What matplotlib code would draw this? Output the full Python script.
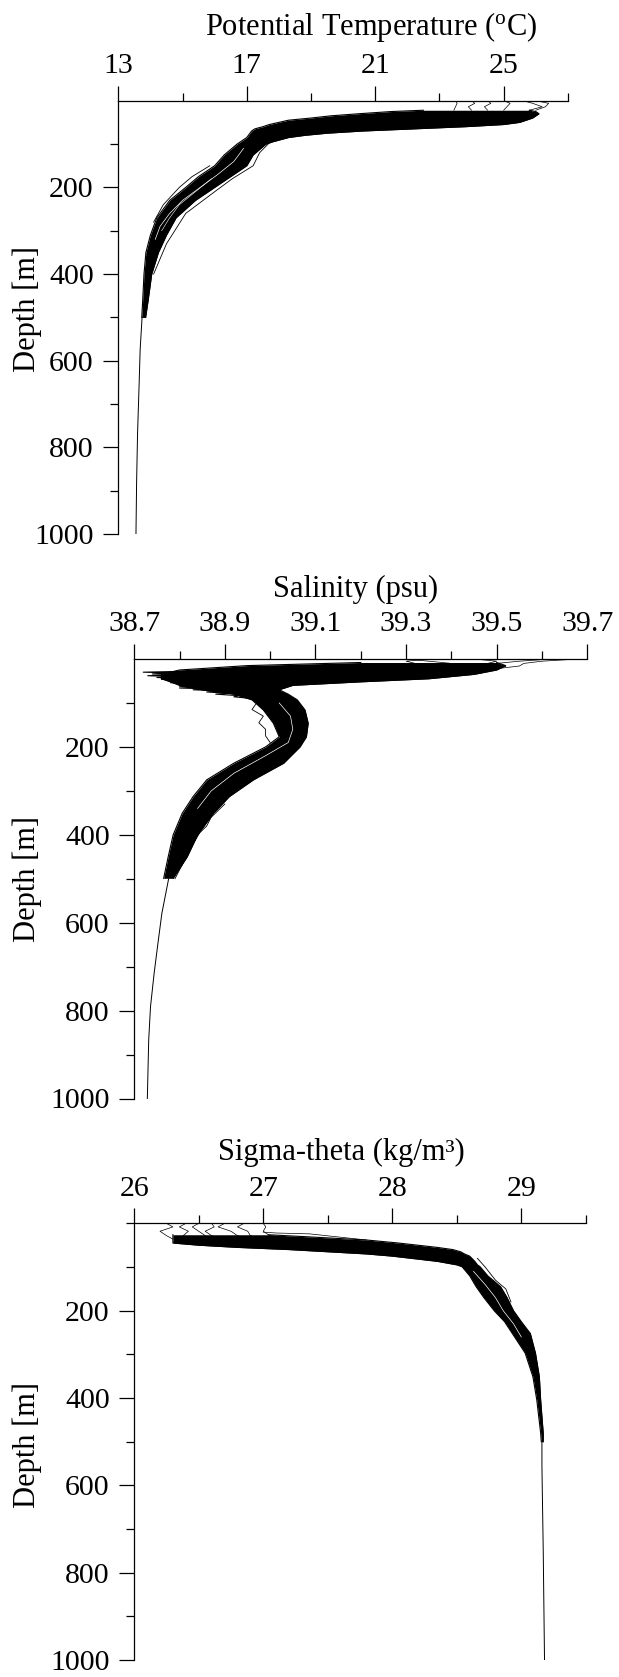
import numpy as np
import matplotlib.pyplot as plt

plt.rcParams['font.family'] = 'Liberation Serif'
plt.rcParams['mathtext.fontset'] = 'custom'
plt.rcParams['mathtext.rm'] = 'Liberation Serif'
plt.rcParams['mathtext.default'] = 'regular'

# %% potential temperature (degC) -- envelope of the cast bundle + single deep cast
temp_depth = [22, 25, 30, 35, 40, 45, 50, 55, 60, 65, 70, 75, 80, 85, 95, 100, 125,
              150, 175, 200, 230, 270, 310, 350, 400, 460, 500]
temp_left = [22.5, 21.5, 20.5, 19.6, 19.0, 18.3, 18.0, 17.7, 17.5, 17.25, 17.15, 17.1,
             17.05, 17.0, 16.8, 16.7, 16.3, 16.0, 15.5, 15.1, 14.6, 14.2, 14.0, 13.86,
             13.8, 13.76, 13.73]
temp_right = [25.8, 26.0, 26.1, 26.0, 25.9, 25.7, 25.5, 25.0, 23.8, 22.2, 20.6, 19.5,
              18.8, 18.3, 17.8, 17.6, 17.2, 17.0, 16.5, 16.0, 15.4, 14.8, 14.5, 14.25,
              14.04, 13.93, 13.85]
temp_deep_depth = [500, 575, 650, 767, 880, 1000]
temp_deep = [13.74, 13.68, 13.65, 13.6, 13.57, 13.55]
temp_surf_depth = [0, 6, 14, 22]
temp_surf = [[23.5, 23.55, 23.5, 23.45],
             [24.0, 24.1, 23.9, 24.0],
             [24.5, 24.6, 24.4, 24.5],
             [25.0, 25.2, 25.1, 25.0],
             [25.6, 25.9, 26.2, 25.8],
             [26.0, 26.4, 26.3, 26.0]]
# casts standing out of the bundle, and white gaps inside it
temp_out_depth = [90, 120, 150, 180, 210, 260, 330, 400]
temp_out_right = [17.8, 17.4, 17.2, 16.55, 16.0, 15.1, 14.5, 14.1]
temp_out_left_depth = [150, 175, 200, 240, 280]
temp_out_left = [15.85, 15.3, 14.9, 14.4, 14.1]
temp_gap_depth = [110, 140, 170, 200, 230, 260, 290, 320]
temp_gap = [16.9, 16.6, 16.1, 15.55, 15.0, 14.6, 14.3, 14.15]
temp_gap2_depth = [180, 210, 240, 270, 300]
temp_gap2 = [15.9, 15.4, 14.9, 14.6, 14.35]

# %% salinity (psu)
sal_depth = [8, 15, 25, 35, 45, 52, 60, 70, 80, 93, 116, 146, 177, 200, 237, 275,
             313, 351, 400, 450, 499]
sal_left = [39.2, 38.95, 38.80, 38.76, 38.76, 38.78, 38.80, 38.85, 38.92, 38.96, 38.985,
            39.007, 39.02, 38.99, 38.92, 38.86, 38.83, 38.806, 38.786, 38.775, 38.765]
sal_right = [39.5, 39.52, 39.50, 39.45, 39.35, 39.2, 39.05, 39.02, 39.04, 39.06, 39.077,
             39.084, 39.08, 39.066, 39.03, 38.963, 38.91, 38.875, 38.84, 38.817, 38.786]
sal_deep_depth = [500, 579, 650, 715, 791, 867, 1000]
sal_deep = [38.776, 38.761, 38.752, 38.744, 38.736, 38.732, 38.729]
sal_surf_depth = [0, 5, 10, 16, 22]
sal_surf = [[39.62, 39.55, 39.5, 39.45, 39.4],
            [39.45, 39.5, 39.48, 39.52, 39.5],
            [39.3, 39.35, 39.4, 39.45, 39.42],
            [39.68, 39.6, 39.56, 39.55, 39.5],
            [39.35, 39.3, 39.32, 39.38, 39.3]]
sal_spike_depth = [26, 30, 34, 38, 42, 46, 50, 54, 58, 62, 66, 70, 75, 80, 86, 92]
sal_spike_a = [38.9, 38.72, 38.88, 38.73, 38.85, 38.76, 38.9, 38.78, 38.93, 38.8,
               38.92, 38.83, 38.95, 38.88, 38.97, 39.0]
sal_spike_b = [38.95, 38.8, 38.74, 38.9, 38.75, 38.82, 38.78, 38.95, 38.82, 38.88,
               38.8, 38.93, 38.86, 38.94, 38.92, 38.98]
sal_out_left_depth = [100, 115, 130, 145, 160, 175, 190]
sal_out_left = [38.97, 38.96, 38.985, 38.975, 38.99, 38.99, 39.0]
sal_out_right_depth = [330, 360, 380, 395, 420, 460, 500]
sal_out_right = [38.9, 38.87, 38.86, 38.845, 38.83, 38.81, 38.79]
sal_gap_depth = [100, 130, 160, 190, 220, 260, 300, 340]
sal_gap = [39.02, 39.045, 39.05, 39.04, 38.99, 38.92, 38.87, 38.84]

# %% sigma-theta (kg/m3)
sig_depth = [26, 30, 38, 45, 50, 55, 60, 65, 70, 75, 87, 95, 99, 120, 145, 170, 200,
             225, 252, 297, 351, 404, 480, 500]
sig_left = [26.3, 26.3, 26.3, 26.3, 26.5, 26.8, 27.2, 27.5, 27.8, 28.0, 28.35, 28.5,
            28.54, 28.6, 28.65, 28.71, 28.79, 28.87, 28.93, 29.03, 29.09, 29.12,
            29.15, 29.155]
sig_right = [27.04, 27.3, 27.8, 28.05, 28.2, 28.35, 28.47, 28.53, 28.56, 28.6, 28.64,
             28.66, 28.68, 28.74, 28.84, 28.89, 28.94, 29.0, 29.07, 29.11, 29.14, 29.15,
             29.17, 29.17]
sig_deep_depth = [500, 557, 748, 1000]
sig_deep = [29.16, 29.16, 29.17, 29.18]
sig_surf_depth = [0, 8, 18, 28, 36]
sig_surf = [[26.25, 26.3, 26.2, 26.25, 26.3],
            [26.4, 26.35, 26.42, 26.38, 26.45],
            [26.5, 26.45, 26.5, 26.55, 26.6],
            [26.6, 26.62, 26.55, 26.6, 26.7],
            [26.7, 26.65, 26.75, 26.8, 26.9],
            [26.85, 26.8, 26.88, 26.9, 27.0],
            [27.0, 27.02, 27.0, 27.05, 27.3]]
sig_outlier_depth = [20, 22, 24, 38]
sig_outlier = [27.0, 27.1, 27.36, 27.8]
sig_out_right_depth = [80, 100, 130, 150, 180]
sig_out_right = [28.66, 28.72, 28.8, 28.88, 28.92]
sig_gap_depth = [110, 140, 170, 200, 230, 260]
sig_gap = [28.63, 28.72, 28.8, 28.86, 28.94, 29.0]

# %% figure
W, H = 619, 1677
fig = plt.figure(figsize=(W / 100, H / 100), dpi=100)


def px_axes(l, r, t, b):
    return fig.add_axes([l / W, 1 - b / H, (r - l) / W, (b - t) / H])


def style(ax, xlim, xmajor, xminor, yminor):
    ax.set_xlim(*xlim)
    ax.set_ylim(1000, 0)
    ax.xaxis.tick_top()
    for s in ['bottom', 'right']:
        ax.spines[s].set_visible(False)
    for s in ['top', 'left']:
        ax.spines[s].set_linewidth(0.9)
        ax.spines[s].set_zorder(5)
    ax.set_xticks(xmajor)
    ax.set_xticks(xminor, minor=True)
    ax.set_yticks([200, 400, 600, 800, 1000])
    ax.set_yticks(yminor, minor=True)
    ax.tick_params(which='major', direction='out', length=10.6, width=0.9,
                   labelsize=21.5)
    ax.tick_params(which='minor', direction='out', length=5.8, width=0.9)
    ax.tick_params(axis='x', pad=5)
    ax.tick_params(axis='y', pad=7)


def bundle(ax, depth, left, right):
    ax.fill_betweenx(depth, left, right, color='black', lw=0)
    ax.plot(left, depth, color='black', lw=0.8)
    ax.plot(right, depth, color='black', lw=0.8)


def thin(ax, x, d, color='black', lw=0.6):
    ax.plot(x, d, color=color, lw=lw)


ymin_std = [100, 300, 500, 700, 900]

# temperature
ax1 = px_axes(118.3, 567.9, 100.7, 534.2)
bundle(ax1, temp_depth, temp_left, temp_right)
ax1.plot(temp_deep, temp_deep_depth, color='black', lw=0.7)
for t in temp_surf:
    thin(ax1, t, temp_surf_depth, lw=0.5)
thin(ax1, temp_out_right, temp_out_depth)
thin(ax1, temp_out_left, temp_out_left_depth)
thin(ax1, temp_gap, temp_gap_depth, color='white', lw=0.5)
thin(ax1, temp_gap2, temp_gap2_depth, color='white', lw=0.4)
style(ax1, (13, 27), [13, 17, 21, 25], [15, 19, 23, 27], ymin_std)

# salinity
ax2 = px_axes(134.2, 587.3, 659, 1098.5)
bundle(ax2, sal_depth, sal_left, sal_right)
ax2.plot(sal_deep, sal_deep_depth, color='black', lw=0.7)
for s in sal_surf:
    thin(ax2, s, sal_surf_depth, lw=0.5)
thin(ax2, sal_spike_a, sal_spike_depth, lw=0.8)
thin(ax2, sal_spike_b, sal_spike_depth, lw=0.8)
thin(ax2, sal_out_left, sal_out_left_depth)
thin(ax2, sal_out_right, sal_out_right_depth)
thin(ax2, sal_gap, sal_gap_depth, color='white', lw=0.5)
style(ax2, (38.7, 39.7), [38.7, 38.9, 39.1, 39.3, 39.5, 39.7],
      [38.8, 39.0, 39.2, 39.4, 39.6], ymin_std)
ax2.set_xticklabels(['38.7', '38.9', '39.1', '39.3', '39.5', '39.7'])

# sigma-theta
ax3 = px_axes(134.2, 585.8, 1223.4, 1660)
bundle(ax3, sig_depth, sig_left, sig_right)
ax3.plot(sig_deep, sig_deep_depth, color='black', lw=0.7)
for s in sig_surf:
    thin(ax3, s, sig_surf_depth, lw=0.5)
thin(ax3, sig_outlier, sig_outlier_depth, lw=0.5)
thin(ax3, sig_out_right, sig_out_right_depth)
thin(ax3, sig_gap, sig_gap_depth, color='white', lw=0.5)
style(ax3, (26, 29.5), [26, 27, 28, 29], [26.5, 27.5, 28.5, 29.5], [0] + ymin_std)

# titles and depth labels
fig.text(371 / W, 1 - 35 / H, r'Potential Temperature ($^o$C)', fontsize=22,
         ha='center', va='baseline')
fig.text(356 / W, 1 - 597 / H, 'Salinity (psu)', fontsize=22, ha='center', va='baseline')
fig.text(341.7 / W, 1 - 1160 / H, 'Sigma-theta (kg/m³)', fontsize=22, ha='center',
         va='baseline')
for yc in [308.5, 879.5, 1445]:
    fig.text(27.5 / W, 1 - yc / H, 'Depth [m]', fontsize=22, rotation=90,
             ha='center', va='center')

fig.savefig('out.png', dpi=100)
